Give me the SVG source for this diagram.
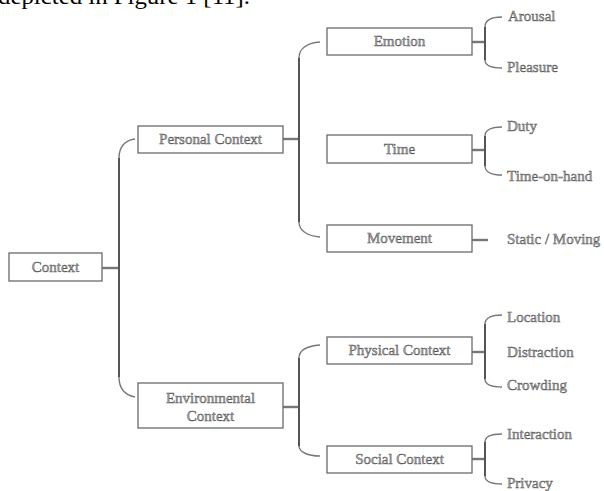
<svg xmlns="http://www.w3.org/2000/svg" width="604" height="491" viewBox="0 0 604 491">
<style>
.box{fill:#fff;stroke:#6a6a6a;stroke-width:1.3}
.t{font-family:"Liberation Serif","Times New Roman",serif;font-size:15px;fill:#a8a8a8;stroke:#555;stroke-width:0.45}
.c{text-anchor:middle}
.ln{fill:none;stroke:#555;stroke-width:2}
.cv{fill:none;stroke:#777;stroke-width:1.4}
.hb{fill:none;stroke:#777;stroke-width:2.4}
.top{font-family:"Liberation Serif","Times New Roman",serif;font-size:24px;fill:#000}
</style>
<rect width="604" height="491" fill="#fff"/>
<text class="top" x="-2" y="4" textLength="252" lengthAdjust="spacingAndGlyphs">depicted in Figure 1 [11].</text>
<g id="connectors">
<line class="hb" x1="102" y1="268" x2="119" y2="268"/>
<path class="ln" d="M119,158 L119,377"/>
<path class="cv" d="M135,139 C125,140 119,147 119,158 M119,377 C119,388 125,395 135,397"/>
<line class="hb" x1="283" y1="139" x2="299" y2="139"/>
<path class="ln" d="M299,58 L299,222"/>
<path class="cv" d="M320,42 C308,43 299,48 299,58 M299,222 C299,231 308,236 320,237"/>
<line class="hb" x1="283" y1="407" x2="299" y2="407"/>
<path class="ln" d="M299,358 L299,446"/>
<path class="cv" d="M320,345 C308,346 299,350 299,358 M299,446 C299,452 308,456 320,456"/>
<line class="hb" x1="472" y1="42" x2="485" y2="42"/>
<path class="ln" d="M485,27 L485,60"/>
<path class="cv" d="M502,17 C492,17 485,20 485,27 M485,60 C485,66 492,68 502,68"/>
<line class="hb" x1="472" y1="150" x2="485" y2="150"/>
<path class="ln" d="M485,136 L485,166"/>
<path class="cv" d="M502,127 C492,127 485,130 485,136 M485,166 C485,172 492,175 502,175"/>
<line class="hb" x1="472" y1="240" x2="488" y2="240"/>
<line class="hb" x1="472" y1="352" x2="485" y2="352"/>
<path class="ln" d="M485,324 L485,379"/>
<path class="cv" d="M502,315 C492,315 485,318 485,324 M485,379 C485,385 492,387 502,387"/>
<line class="hb" x1="472" y1="459" x2="485" y2="459"/>
<path class="ln" d="M485,442 L485,476"/>
<path class="cv" d="M502,434 C492,434 485,436 485,442 M485,476 C485,482 492,484 502,484"/>
</g>
<g id="context"><rect class="box" x="9" y="253" width="93" height="28"/><text class="t c" x="55.5" y="272">Context</text></g>
<g id="personal"><rect class="box" x="138" y="126" width="145" height="27"/><text class="t c" x="210.5" y="144">Personal Context</text></g>
<g id="environmental"><rect class="box" x="138" y="383" width="145" height="45"/><text class="t c" x="210.5" y="403">Environmental</text><text class="t c" x="210.5" y="421">Context</text></g>
<g id="emotion"><rect class="box" x="327" y="28" width="145" height="27"/><text class="t c" x="399.5" y="46">Emotion</text></g>
<g id="time"><rect class="box" x="327" y="135" width="145" height="28"/><text class="t c" x="399.5" y="154">Time</text></g>
<g id="movement"><rect class="box" x="327" y="225" width="145" height="27"/><text class="t c" x="399.5" y="243">Movement</text></g>
<g id="physical"><rect class="box" x="327" y="337" width="145" height="27"/><text class="t c" x="399.5" y="355">Physical Context</text></g>
<g id="social"><rect class="box" x="327" y="446" width="145" height="27"/><text class="t c" x="399.5" y="464">Social Context</text></g>
<g id="arousal"><text class="t" x="508" y="21">Arousal</text></g>
<g id="pleasure"><text class="t" x="507" y="72">Pleasure</text></g>
<g id="duty"><text class="t" x="507" y="131">Duty</text></g>
<g id="timeonhand"><text class="t" x="507" y="181">Time-on-hand</text></g>
<g id="static"><text class="t" x="507" y="244">Static / Moving</text></g>
<g id="location"><text class="t" x="507" y="322">Location</text></g>
<g id="distraction"><text class="t" x="507" y="357">Distraction</text></g>
<g id="crowding"><text class="t" x="507" y="390">Crowding</text></g>
<g id="interaction"><text class="t" x="507" y="439">Interaction</text></g>
<g id="privacy"><text class="t" x="507" y="488">Privacy</text></g>
</svg>
